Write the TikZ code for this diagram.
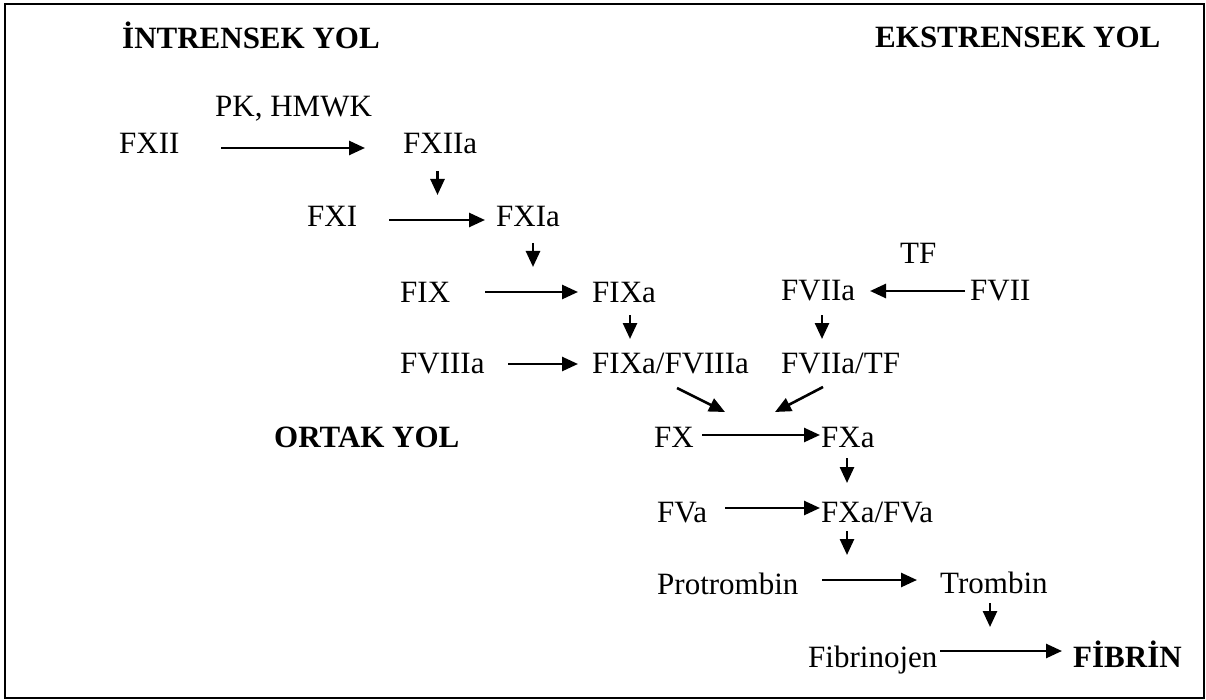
\documentclass[tikz,border=0pt]{standalone}
\usepackage{fontspec}
\setmainfont{Liberation Serif}
\usetikzlibrary{arrows.meta,calc}
\begin{document}
\begin{tikzpicture}[x=1pt,y=-1pt,
  lbl/.style={inner sep=0pt,anchor=base west,font=\fontsize{31}{36}\selectfont},
  blbl/.style={lbl,font=\fontsize{31}{36}\selectfont\bfseries},
  arr/.style={line width=2.6pt,-{Triangle[length=16pt,width=14pt]}}]
\useasboundingbox (0,0) rectangle (1206,700);
\node[draw,line width=1.6pt,inner sep=0pt,minimum width=1199pt,minimum height=694pt,anchor=north west] (frame) at (4,3) {};
% texts
\node[blbl] (intr) at (122,49) {İNTRENSEK YOL};
\node[blbl] (ekst) at (875,48) {EKSTRENSEK YOL};
\node[lbl] (pk) at (215,117) {PK, HMWK};
\node[lbl] (fxii) at (119,154) {FXII};
\node[lbl] (fxiia) at (403,154) {FXIIa};
\node[lbl] (fxi) at (307,227) {FXI};
\node[lbl] (fxia) at (496,227) {FXIa};
\node[lbl] (fix) at (400,302) {FIX};
\node[lbl] (fixa) at (592,302) {FIXa};
\node[lbl] (tf) at (900,264) {TF};
\node[lbl] (fviia) at (781,301) {FVIIa};
\node[lbl] (fvii) at (970,301) {FVII};
\node[lbl] (fviiia) at (400,373) {FVIIIa};
\node[lbl] (fixafviiia) at (592,373) {FIXa/FVIIIa};
\node[lbl] (fviiatf) at (781,373) {FVIIa/TF};
\node[blbl] (ortak) at (274,447) {ORTAK YOL};
\node[lbl] (fx) at (654,447) {FX};
\node[lbl] (fxa) at (821,447) {FXa};
\node[lbl] (fva) at (657,522) {FVa};
\node[lbl] (fxafva) at (821,522) {FXa/FVa};
\node[lbl] (protr) at (657,594) {Protrombin};
\node[lbl] (tromb) at (940,593) {Trombin};
\node[lbl] (fibrinojen) at (808,667) {Fibrinojen};
\node[blbl] (fibrin) at (1073,667) {FİBRİN};
% arrows
\draw[arr] ($(fxii.base west)+(102,-6)$) -- ($(fxiia.base west)+(-38,-6)$);
\draw[arr] ($(fxiia.base west)+(34.5,17)$) -- ($(fxiia.base west)+(34.5,41)$);
\draw[arr] ($(fxi.base west)+(82,-7)$) -- ($(fxia.base west)+(-11,-7)$);
\draw[arr] ($(fxia.base west)+(37,16)$) -- ($(fxia.base west)+(37,40)$);
\draw[arr] ($(fix.base west)+(85,-10)$) -- ($(fixa.base west)+(-14,-10)$);
\draw[arr] ($(fvii.base west)+(-5,-10)$) -- ($(fviia.base west)+(89,-10)$);
\draw[arr] ($(fixa.base west)+(38,13)$) -- ($(fixa.base west)+(38,37)$);
\draw[arr] ($(fviia.base west)+(41,14)$) -- ($(fviia.base west)+(41,38)$);
\draw[arr] ($(fviiia.base west)+(108,-9)$) -- ($(fixafviiia.base west)+(-14,-9)$);
\draw[arr] ($(fixafviiia.base west)+(85,15)$) -- ($(fx.base west)+(71,-35)$);
\draw[arr] ($(fviiatf.base west)+(42,14)$) -- ($(fx.base west)+(121,-35)$);
\draw[arr] ($(fx.base west)+(48,-12)$) -- ($(fxa.base west)+(-1,-12)$);
\draw[arr] ($(fxa.base west)+(26,11)$) -- ($(fxa.base west)+(26,36)$);
\draw[arr] ($(fva.base west)+(68,-14)$) -- ($(fxafva.base west)+(-1,-14)$);
\draw[arr] ($(fxafva.base west)+(26,9)$) -- ($(fxafva.base west)+(26,33)$);
\draw[arr] ($(protr.base west)+(165,-14)$) -- ($(tromb.base west)+(-23,-13)$);
\draw[arr] ($(tromb.base west)+(50,10)$) -- ($(tromb.base west)+(50,34)$);
\draw[arr] ($(fibrinojen.base west)+(132,-16)$) -- ($(fibrin.base west)+(-11,-16)$);
\end{tikzpicture}
\end{document}
